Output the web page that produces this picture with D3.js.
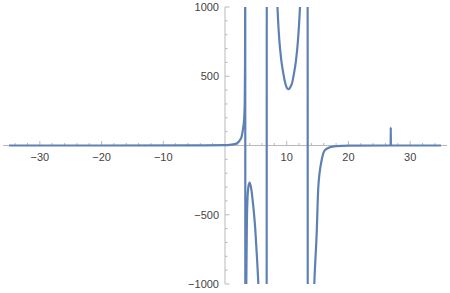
<!DOCTYPE html>
<html><head><meta charset="utf-8">
<script src="https://cdn.jsdelivr.net/npm/d3@7"></script>
<style>body{margin:0;background:#fff}svg{display:block}text{font-family:"Liberation Sans",Arial,sans-serif;font-size:11px;fill:#444}</style>
</head><body><svg id="c" width="450" height="293"></svg>
<script>
// Curve samples (x, y)
const xs = [-35,-20,-5,0,1,1.5,2.0,2.43,2.7,2.97,3.1,3.2,3.25,3.28,3.30,3.45,3.55,3.65,3.8,4.0,4.2,4.59,4.9,5.14,5.4,5.7,6.74,6.78,8.3,8.5,8.6,8.8,9.12,9.45,9.77,10.0,10.26,10.5,10.86,11.18,11.51,11.83,12.04,12.15,12.3,13.38,13.42,14.2,14.47,14.86,15.12,15.67,16.2,17.0,18,20,26.84,26.86,26.88,35];
const ys = [0,0,0.3,2,6,10,18,40,65,136,190,320,600,1500,-3000,-1000,-550,-380,-295,-268,-300,-442,-600,-778,-1000,-1400,-3000,3000,1250,1000,906,762,617,521,449,418,406,415,449,521,617,762,906,1000,1250,3000,-3000,-1400,-1000,-630,-300,-105,-32,-13,-5,-1,0,130,0,0];
const xMajor = [-30,-20,-10,10,20,30];
const yMajor = [-1000,-500,500,1000];

const svg = d3.select("#c");
const x = d3.scaleLinear().domain([-35,35]).range([9,441]);
const y = d3.scaleLinear().domain([-1000,1000]).range([284,7]);
const axisCol = "#b8b8b8";

// minor ticks
const xMinor = d3.range(-34,35,2).filter(v=>v!==0);
const yMinor = d3.range(-1000,1001,100).filter(v=>v!==0);

const g = svg.append("g");
g.append("line").attr("x1",3).attr("x2",447).attr("y1",y(0)).attr("y2",y(0)).attr("stroke",axisCol).attr("stroke-width",1);
g.append("line").attr("x1",x(0)).attr("x2",x(0)).attr("y1",y(1000)).attr("y2",y(-1000)).attr("stroke",axisCol).attr("stroke-width",1);

g.selectAll(".xt").data(xMinor).join("line")
  .attr("x1",d=>x(d)).attr("x2",d=>x(d))
  .attr("y1",y(0)).attr("y2",d=>y(0)-(d%10===0?4.5:2.5))
  .attr("stroke",axisCol);
g.selectAll(".yt").data(yMinor).join("line")
  .attr("y1",d=>y(d)).attr("y2",d=>y(d))
  .attr("x1",x(0)).attr("x2",d=>x(0)+(d%500===0?4.5:2.5))
  .attr("stroke",axisCol);

g.selectAll(".xl").data(xMajor).join("text")
  .attr("x",d=>x(d)).attr("y",161).attr("text-anchor","middle")
  .text(d=>d<0?"\u2212"+Math.abs(d):d);
g.selectAll(".yl").data(yMajor).join("text")
  .attr("x",219).attr("y",d=>y(d)+4).attr("text-anchor","end")
  .text(d=>d<0?"\u2212"+Math.abs(d):d);

svg.append("clipPath").attr("id","cp").append("rect")
  .attr("x",0).attr("y",y(1000)).attr("width",450).attr("height",y(-1000)-y(1000));

const pts = xs.map((v,i)=>[v,ys[i]]);
svg.append("path").attr("clip-path","url(#cp)")
  .attr("d", d3.line().x(d=>x(d[0])).y(d=>y(d[1])).curve(d3.curveMonotoneX)(pts))
  .attr("fill","none").attr("stroke","#5e81b5").attr("stroke-width",2.2).attr("stroke-linejoin","round");
</script></body></html>
